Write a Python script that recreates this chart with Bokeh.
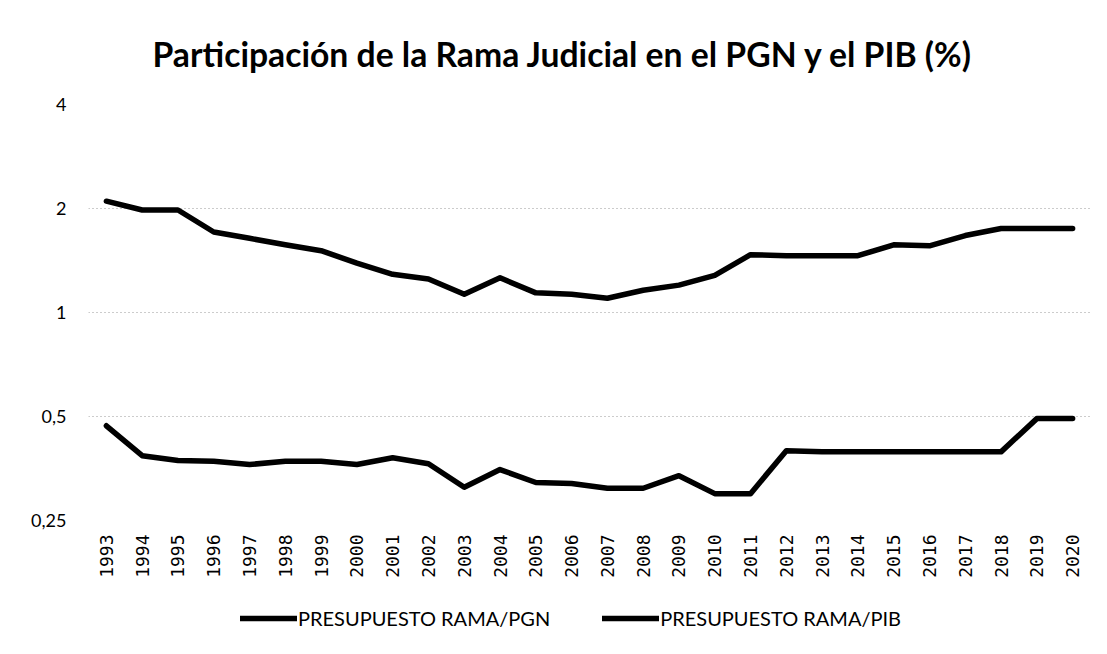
import math
from bokeh.plotting import figure
from bokeh.layouts import column
from bokeh.models import (Range1d, FactorRange, FixedTicker, Legend, LegendItem, ColumnDataSource)
from bokeh.embed import file_html
from bokeh.resources import INLINE

years = [str(y) for y in range(1993, 2021)]
pgn = [2.10, 1.98, 1.98, 1.71, 1.64, 1.57, 1.51, 1.39, 1.29, 1.25, 1.13, 1.26, 1.14, 1.13,
       1.10, 1.16, 1.20, 1.28, 1.47, 1.46, 1.46, 1.46, 1.57, 1.56, 1.67, 1.75, 1.75, 1.75]
pib = [0.470, 0.385, 0.373, 0.371, 0.363, 0.371, 0.371, 0.363, 0.380, 0.365, 0.312, 0.351, 0.322, 0.320,
       0.310, 0.310, 0.337, 0.299, 0.299, 0.398, 0.395, 0.395, 0.395, 0.395, 0.395, 0.395, 0.493, 0.493]
y_ticks = [0.25, 0.5, 1, 2, 4]
y_labels = ["0,25", "0,5", "1", "2", "4"]
title_text = "Participación de la Rama Judicial en el PGN y el PIB (%)"
series_names = ["PRESUPUESTO RAMA/PGN", "PRESUPUESTO RAMA/PIB"]

src = ColumnDataSource(dict(year=years, pgn=pgn, pib=pib))

p = figure(frame_width=1002, frame_height=416, output_backend="svg", toolbar_location=None,
           x_range=FactorRange(*years), y_axis_type="log", y_range=Range1d(0.25, 4),
           min_border_left=88, min_border_right=9, min_border_top=104, min_border_bottom=80)

p.title.text = title_text
p.title.text_font = "Lato"
p.title.text_font_style = "bold"
p.title.text_font_size = "33.7px"
p.title.align = "left"
p.title.offset = 64
p.title.text_color = "#000000"
p.title.standoff = 62

line_style = dict(line_color="black", line_width=5.5, line_join="round", line_cap="round")
p.line("year", "pgn", source=src, **line_style)
p.line("year", "pib", source=src, **line_style)

p.outline_line_color = None
p.xgrid.grid_line_color = None
p.ygrid.grid_line_color = "#999999"
p.ygrid.grid_line_dash = "1 3"
p.ygrid.grid_line_width = 1
p.yaxis.ticker = FixedTicker(ticks=y_ticks)
p.yaxis.minor_tick_line_color = None
p.yaxis.major_label_overrides = {t: l for t, l in zip(y_ticks, y_labels)}
p.yaxis.axis_line_color = None
p.yaxis.major_tick_line_color = None
p.yaxis.major_label_text_font = "Lato"
p.yaxis.major_label_text_font_size = "18px"
p.yaxis.major_label_text_color = "black"
p.yaxis.major_label_standoff = 16

p.xaxis.axis_line_color = None
p.xaxis.major_tick_line_color = None
p.xaxis.major_label_orientation = math.pi / 2
p.xaxis.major_label_text_font = "DejaVu Sans Mono"
p.xaxis.major_label_text_font_size = "18px"
p.xaxis.major_label_text_color = "black"
p.xaxis.major_label_standoff = 8

# legend strip below the chart (its renderers lie outside its visible range)
lg = figure(width=1099, height=46, output_backend="svg", toolbar_location=None,
            x_range=Range1d(0, 1), y_range=Range1d(0, 1),
            min_border_left=0, min_border_right=0, min_border_top=0, min_border_bottom=0)
lg.axis.visible = False
lg.grid.visible = False
lg.outline_line_color = None
l1 = lg.line(x=[5, 6], y=[5, 6], **line_style)
l2 = lg.line(x=[5, 6], y=[5, 6], **line_style)
legend = Legend(items=[LegendItem(label=series_names[0], renderers=[l1]),
                       LegendItem(label=series_names[1], renderers=[l2])],
                orientation="horizontal", location=(152, 16))
legend.border_line_color = None
legend.background_fill_alpha = 0
legend.label_text_font = "Lato"
legend.label_text_font_size = "20px"
legend.label_text_color = "black"
legend.glyph_width = 57
legend.glyph_height = 20
legend.label_standoff = 1
legend.spacing = 52
legend.margin = 0
legend.padding = 0
lg.add_layout(legend, "center")

open("out.html", "w").write(file_html(column(p, lg, spacing=0), INLINE))
